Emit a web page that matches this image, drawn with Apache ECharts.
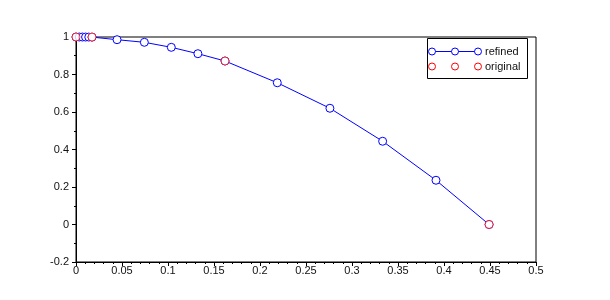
<!DOCTYPE html>
<html>
<head>
<meta charset="utf-8">
<script src="https://cdn.jsdelivr.net/npm/echarts@6/dist/echarts.min.js"></script>
<style>html,body{margin:0;padding:0;background:#fff}#c{width:610px;height:300px}</style>
</head>
<body>
<div id="c"></div>
<script>
// Data
var refinedX = [0, 0.0035, 0.007, 0.0104, 0.0139, 0.0174, 0.0446, 0.0743, 0.1036, 0.1325, 0.162, 0.2188, 0.276, 0.3333, 0.3913, 0.449];
var refinedY = [1, 1, 0.9999, 0.9998, 0.9997, 0.9995, 0.9856, 0.9717, 0.945, 0.911, 0.872, 0.756, 0.62, 0.444, 0.236, 0];
var originalX = [0, 0.0174, 0.162, 0.449];
var originalY = [1, 0.9995, 0.872, 0];
var xTickLabels = ['0', '0.05', '0.1', '0.15', '0.2', '0.25', '0.3', '0.35', '0.4', '0.45', '0.5'];
var yTickLabels = ['-0.2', '0', '0.2', '0.4', '0.6', '0.8', '1'];
var legendNames = ['refined', 'original'];

function zip(a, b) { return a.map(function (v, i) { return [v, b[i]]; }); }

var FONT = 'Liberation Sans';
var chart = echarts.init(document.getElementById('c'), null, { renderer: 'canvas' });

var graphics = [
  { type: 'rect', z: 100, shape: { x: 427.5, y: 38.5, width: 100, height: 40 }, style: { fill: '#fff', stroke: '#000', lineWidth: 1 } }
];
function legendRow(y, color, name, withLine) {
  if (withLine) {
    graphics.push({ type: 'line', z: 101, shape: { x1: 432, y1: y, x2: 478, y2: y }, style: { stroke: color, lineWidth: 1 } });
  }
  [432, 455, 478].forEach(function (cx) {
    graphics.push({ type: 'circle', z: 102, shape: { cx: cx, cy: y, r: 3.5 }, style: { fill: '#fff', stroke: color, lineWidth: 1 } });
  });
  graphics.push({ type: 'text', z: 102, x: 485, y: y, style: { text: name, font: '11px ' + FONT, fill: '#111', verticalAlign: 'middle', align: 'left' } });
}
legendRow(51.5, '#0000ff', legendNames[0], true);
legendRow(66.5, '#ff0000', legendNames[1], false);

chart.setOption({
  animation: false,
  backgroundColor: '#fff',
  grid: { left: 76, right: 74, top: 37, bottom: 38, show: true, borderColor: '#000', borderWidth: 1, backgroundColor: 'transparent' },
  xAxis: {
    type: 'value', min: 0, max: 0.5, interval: 0.05,
    axisLine: { onZero: false, lineStyle: { color: '#000', width: 1 } },
    axisTick: { show: true, inside: false, length: 4, lineStyle: { color: '#000' } },
    minorTick: { show: true, splitNumber: 5, length: 2, lineStyle: { color: '#000' } },
    splitLine: { show: false },
    axisLabel: {
      margin: 3, color: '#111', fontFamily: FONT, fontSize: 11,
      formatter: function (v) { var i = Math.round(v / 0.05); return xTickLabels[i] !== undefined ? xTickLabels[i] : ''; }
    }
  },
  yAxis: {
    type: 'value', min: -0.2, max: 1, interval: 0.2,
    axisLine: { show: true, onZero: false, lineStyle: { color: '#000', width: 1 } },
    axisTick: { show: true, inside: false, length: 4, lineStyle: { color: '#000' } },
    minorTick: { show: true, splitNumber: 2, length: 2, lineStyle: { color: '#000' } },
    splitLine: { show: false },
    axisLabel: {
      margin: 7, color: '#111', fontFamily: FONT, fontSize: 11,
      formatter: function (v) { var i = Math.round((v + 0.2) / 0.2); return yTickLabels[i] !== undefined ? yTickLabels[i] : ''; }
    }
  },
  series: [
    {
      name: legendNames[0], type: 'line', data: zip(refinedX, refinedY),
      symbol: 'circle', symbolSize: 8, showAllSymbol: true,
      lineStyle: { color: '#0000ff', width: 1 },
      itemStyle: { color: '#fff', borderColor: '#0000ff', borderWidth: 1 },
      emphasis: { disabled: true }, z: 2
    },
    {
      name: legendNames[1], type: 'scatter', data: zip(originalX, originalY),
      symbol: 'circle', symbolSize: 8,
      itemStyle: { color: '#fff', borderColor: '#ff0000', borderWidth: 1 },
      emphasis: { disabled: true }, z: 3
    }
  ],
  graphic: graphics
});
</script>
</body>
</html>
